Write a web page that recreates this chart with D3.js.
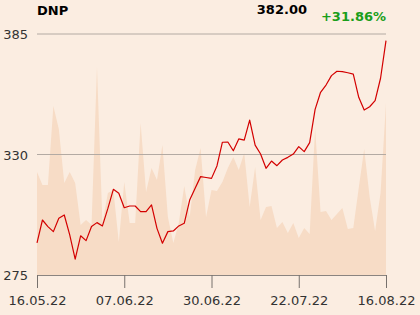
<!DOCTYPE html>
<html>
<head>
<meta charset="utf-8">
<script src="https://cdn.jsdelivr.net/npm/d3@7"></script>
<style>
  body { margin: 0; background: #fbede1; }
  svg { display: block; font-family: "DejaVu Sans", sans-serif; }
</style>
</head>
<body>
<div id="chart"></div>
<script>
const ticker = 'DNP'
const lastPrice = '382.00'
const change = '+31.86%'

const prices = [
  289.7, 300.1, 297.1, 294.8, 300.9, 302.4, 293.3, 282.2, 292.9, 290.7,
  297.1, 298.9, 297.4, 305.4, 314.1, 312.3, 305.7, 306.5, 306.5, 303.9,
  303.9, 307.0, 296.3, 289.5, 294.8, 295.1, 297.4, 298.6, 309.2, 314.6,
  319.9, 319.5, 319.1, 324.8, 335.6, 335.7, 331.7, 337.1, 336.6, 345.7,
  334.3, 330.2, 323.7, 327.0, 324.9, 327.5, 328.7, 330.2, 333.6, 331.3,
  335.4, 350.6, 358.4, 361.7, 366.0, 368.0, 367.8, 367.3, 366.7, 356.1,
  350.3, 351.8, 354.6, 364.8, 382.0
]

// volume, thousands of shares
const volumes = [
  103, 90, 90, 169, 146, 92, 103, 92, 50, 55,
  50, 208, 52, 82, 85, 33, 93, 52, 52, 152,
  83, 107, 95, 130, 58, 32, 52, 89, 58, 105,
  127, 58, 85, 84, 93, 107, 118, 105, 122, 68,
  108, 55, 68, 69, 47, 53, 42, 52, 37, 47,
  41, 147, 63, 64, 55, 61, 67, 46, 47, 87,
  126, 78, 44, 82, 172
]

const tickIndex = [0, 16, 32, 48, 64]
const tickLabels = ['16.05.22', '07.06.22', '30.06.22', '22.07.22', '16.08.22']
const yTicks = [275, 330, 385]

const width = 420
const height = 315
const plotLeft = 37
const plotRight = 386
const plotTop = 34
const plotBottom = 275

const svg = d3.select('#chart')
  .append('svg')
  .attr('width', width)
  .attr('height', height)
  .style('background-color', '#fbede1')

const x = d3.scaleLinear()
  .domain([0, prices.length - 1])
  .range([plotLeft, plotRight])

const y = d3.scaleLinear()
  .domain([275, 385])
  .range([plotBottom, plotTop])

const yVol = d3.scaleLinear()
  .domain([0, 241])
  .range([plotBottom, plotTop])

// volume area
const area = d3.area()
  .x((d, i) => x(i))
  .y0(plotBottom)
  .y1(d => yVol(d))

svg.append('path')
  .datum(volumes)
  .attr('d', area)
  .attr('fill', '#f7dcc6')

// grid lines
svg.selectAll('.grid')
  .data(yTicks.filter(d => d !== 275))
  .enter()
  .append('line')
  .attr('x1', plotLeft)
  .attr('x2', plotRight)
  .attr('y1', d => y(d))
  .attr('y2', d => y(d))
  .attr('stroke', '#b3aaa3')
  .attr('stroke-width', 1)

// y labels
svg.selectAll('.ylab')
  .data(yTicks)
  .enter()
  .append('text')
  .attr('x', 28)
  .attr('y', d => y(d) + 5)
  .attr('text-anchor', 'end')
  .attr('font-size', 13)
  .attr('fill', '#333')
  .text(d => d)

// bottom axis
const xAxis = d3.axisBottom(x)
  .tickValues(tickIndex)
  .tickFormat((d, i) => tickLabels[i])
  .tickSize(13)
  .tickPadding(8)

const gx = svg.append('g')
  .attr('transform', `translate(0,${plotBottom})`)
  .call(xAxis)

gx.select('.domain').attr('stroke', '#8a8480').attr('d', `M${plotLeft},0.5H${plotRight}`)
gx.selectAll('.tick line').attr('stroke', '#77716d')
gx.selectAll('.tick text')
  .attr('font-size', 13)
  .attr('font-family', '"DejaVu Sans", sans-serif')
  .attr('fill', '#333')

// price line
const line = d3.line()
  .x((d, i) => x(i))
  .y(d => y(d))

svg.append('path')
  .datum(prices)
  .attr('d', line)
  .attr('fill', 'none')
  .attr('stroke', '#d30000')
  .attr('stroke-width', 1.2)
  .attr('stroke-linejoin', 'round')

// header
svg.append('text')
  .attr('x', 37)
  .attr('y', 15)
  .attr('font-size', 13)
  .attr('font-weight', 'bold')
  .attr('fill', '#000')
  .text(ticker)

svg.append('text')
  .attr('x', 307)
  .attr('y', 14)
  .attr('text-anchor', 'end')
  .attr('font-size', 13)
  .attr('font-weight', 'bold')
  .attr('fill', '#000')
  .text(lastPrice)

svg.append('text')
  .attr('x', 386)
  .attr('y', 21)
  .attr('text-anchor', 'end')
  .attr('font-size', 13)
  .attr('font-weight', 'bold')
  .attr('fill', '#1a9e1a')
  .text(change)
</script>
</body>
</html>
